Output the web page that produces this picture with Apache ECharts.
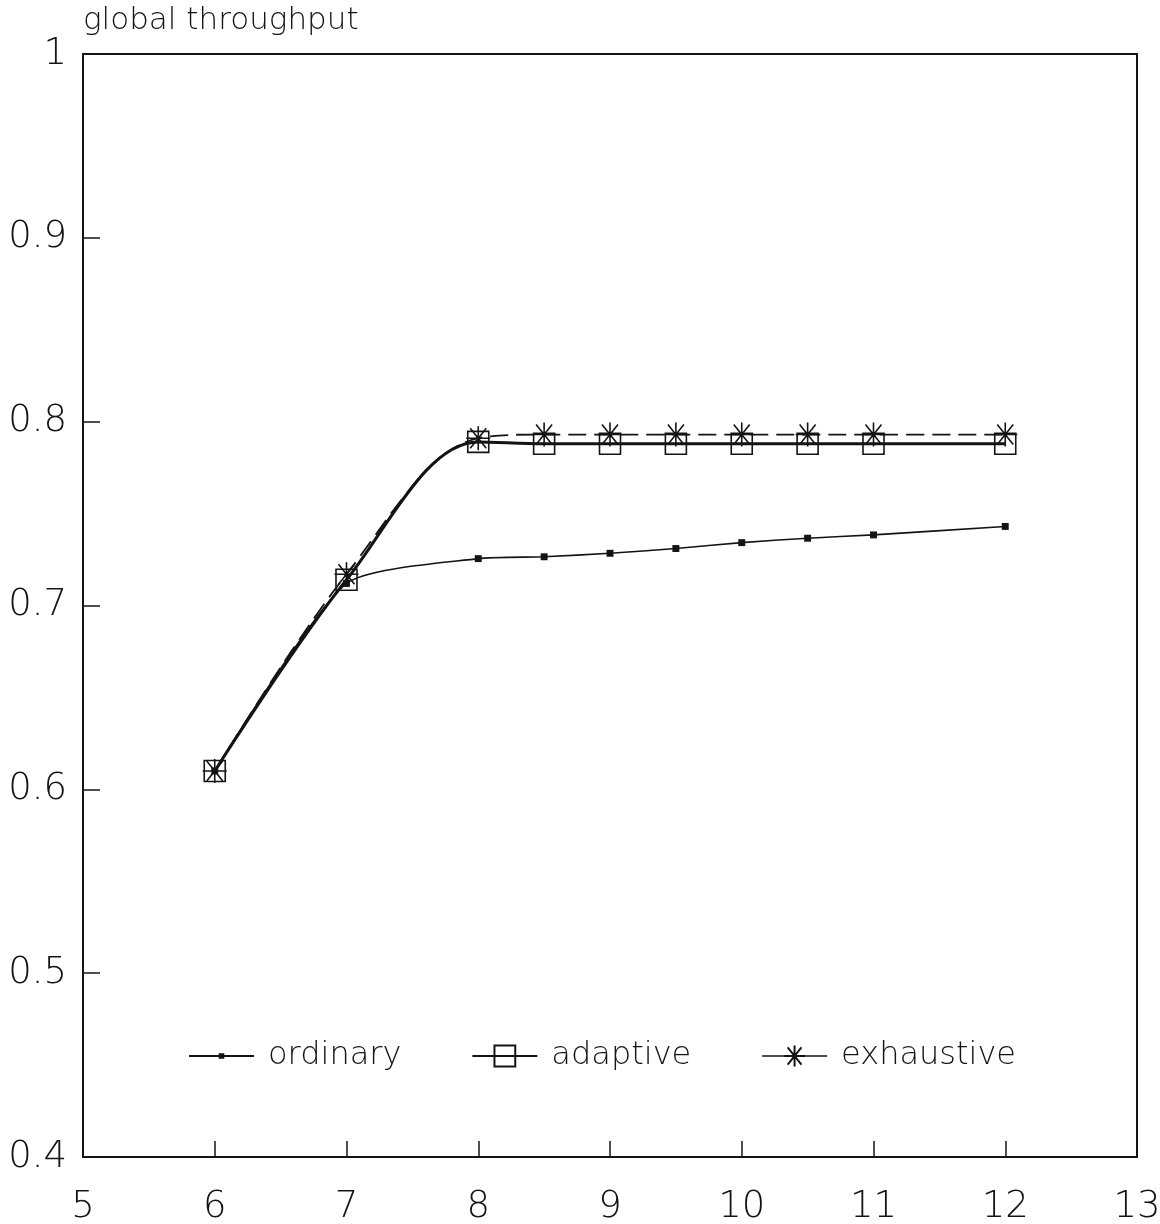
<!DOCTYPE html>
<html>
<head>
<meta charset="utf-8">
<title>global throughput</title>
<script src="https://cdn.jsdelivr.net/npm/echarts@6/dist/echarts.min.js"></script>
<style>
  html, body { margin: 0; padding: 0; background: #fff; }
  #chart { width: 1160px; height: 1224px; }
</style>
</head>
<body>
<div id="chart"></div>
<script>
// x positions of the measurements
const xValues = [6, 7, 8, 8.5, 9, 9.5, 10, 10.5, 11, 12];

// global throughput per strategy
const ordinary   = [0.610, 0.712, 0.7255, 0.7265, 0.7284, 0.731, 0.7342, 0.7366, 0.7384, 0.743];
const adaptive   = [0.610, 0.714, 0.789, 0.788, 0.788, 0.788, 0.788, 0.788, 0.788, 0.788];
const exhaustive = [0.610, 0.717, 0.791, 0.793, 0.793, 0.793, 0.793, 0.793, 0.793, 0.793];

const seriesNames = ['ordinary', 'adaptive', 'exhaustive'];
const yTitle = 'global throughput';

const INK = '#141414';
const FONT = "'DejaVu Sans', 'Liberation Sans', sans-serif";

// small filled square inside a larger (empty) box so the legend icon stays small
const dotSymbol = 'path://M0 0M30 30M11 11L19 11L19 19L11 19Z';
const squareSymbol = 'path://M0 0L20 0L20 20L0 20Z';
const starSymbol = 'path://M12 0L12 24M0 12L24 12M4 2L20 22M20 2L4 22';

function pairs(values) {
  return xValues.map((x, i) => [x, values[i]]);
}

const tickLine = { color: INK, width: 1.5 };

const chart = echarts.init(document.getElementById('chart'), null, { renderer: 'canvas' });

chart.setOption({
  animation: false,
  backgroundColor: '#fff',
  title: {
    text: yTitle,
    left: 78,
    top: 0,
    textStyle: { fontFamily: FONT, fontSize: 31, fontWeight: 300, color: INK }
  },
  grid: {
    left: 83, right: 23, top: 54, bottom: 67,
    outerBoundsMode: 'none',
    containLabel: false,
    show: true, borderColor: INK, borderWidth: 2, backgroundColor: 'transparent'
  },
  legend: {
    left: 183,
    top: 1035,
    selectedMode: false,
    itemWidth: 65,
    itemHeight: 26,
    itemGap: 70,
    data: [
      { name: seriesNames[0] },
      { name: seriesNames[1] },
      { name: seriesNames[2], lineStyle: { type: 'solid', width: 1.6 } }
    ],
    textStyle: {
      fontFamily: FONT, fontSize: 32, fontWeight: 300, color: INK,
      padding: [0, 0, 0, 9]
    }
  },
  xAxis: {
    type: 'value',
    min: 5, max: 13, interval: 1,
    axisLine: { show: true, lineStyle: { color: INK, width: 2 } },
    axisTick: { show: true, inside: true, length: 16, lineStyle: tickLine },
    splitLine: { show: false },
    axisLabel: { fontFamily: FONT, fontSize: 37, fontWeight: 300, color: INK, margin: 32 }
  },
  yAxis: {
    type: 'value',
    min: 0.4, max: 1, interval: 0.1,
    axisLine: { show: true, lineStyle: { color: INK, width: 2 } },
    axisTick: { show: true, inside: true, length: 17, lineStyle: tickLine },
    splitLine: { show: false },
    axisLabel: { fontFamily: FONT, fontSize: 37, fontWeight: 300, color: INK, margin: 16 }
  },
  series: [
    {
      name: seriesNames[0],
      type: 'line',
      data: pairs(ordinary),
      smooth: 0.2,
      symbol: dotSymbol,
      symbolSize: 26,
      showAllSymbol: true,
      lineStyle: { color: INK, width: 1.6 },
      itemStyle: { color: INK, borderColor: INK, borderWidth: 0 },
      z: 2
    },
    {
      name: seriesNames[1],
      type: 'line',
      data: pairs(adaptive),
      smooth: 0.35,
      symbol: squareSymbol,
      symbolSize: 21,
      showAllSymbol: true,
      lineStyle: { color: INK, width: 3 },
      itemStyle: { color: 'rgba(0,0,0,0)', borderColor: INK, borderWidth: 1.6 },
      z: 3
    },
    {
      name: seriesNames[2],
      type: 'line',
      data: pairs(exhaustive),
      smooth: 0.35,
      symbol: starSymbol,
      symbolSize: 24,
      showAllSymbol: true,
      lineStyle: { color: INK, width: 1.8, type: [18, 8] },
      itemStyle: { color: 'rgba(0,0,0,0)', borderColor: INK, borderWidth: 1.6 },
      z: 4
    }
  ]
});
</script>
</body>
</html>
